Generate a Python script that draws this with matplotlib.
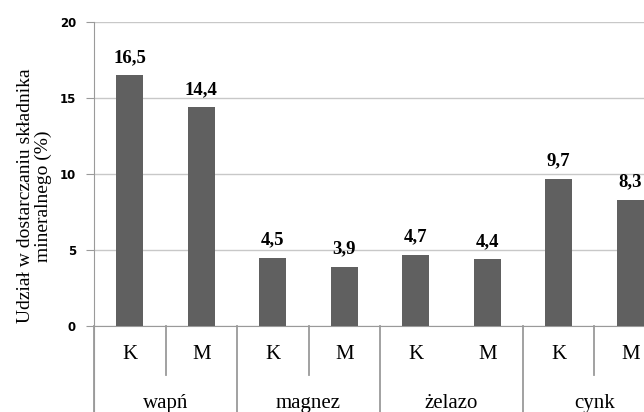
import matplotlib
matplotlib.use("Agg")
import matplotlib.pyplot as plt

# values
groups = ["wapń", "magnez", "żelazo", "cynk"]
subcats = ["K", "M"]
values = [16.5, 14.4, 4.5, 3.9, 4.7, 4.4, 9.7, 8.3]
value_labels = ["16,5", "14,4", "4,5", "3,9", "4,7", "4,4", "9,7", "8,3"]
yticks = [0, 5, 10, 15, 20]
ylabel = "Udział w dostarczaniu składnika\nmineralnego (%)"

serif = "Liberation Serif"
bar_col = "#606060"
line_col = "#9a9a9a"

fig = plt.figure(figsize=(6.44, 4.12), dpi=100, facecolor="white")
# plot area runs past the right edge, like the source image
ax = fig.add_axes([94 / 644, 1 - 326 / 412, 572 / 644, 304 / 412])

x = list(range(len(values)))
ax.bar(x, values, width=0.38, color=bar_col, zorder=3)
for xi, v, lab in zip(x, values, value_labels):
    ax.text(xi, v + 0.6, lab, ha="center", va="bottom", fontsize=13.5,
            fontweight="bold", family=serif)

ax.set_xlim(-0.5, len(values) - 0.5)
ax.set_ylim(0, 20)
ax.set_yticks(yticks)
ax.set_yticklabels([str(t) for t in yticks], fontsize=8.5, fontweight="bold",
                   family="DejaVu Sans")
ax.yaxis.grid(True, color="#c8c8c8", linewidth=1, zorder=0)
ax.tick_params(axis="y", length=6, color=line_col, pad=7)
ax.tick_params(axis="x", bottom=False, labelbottom=False)
for s in ["top", "right"]:
    ax.spines[s].set_visible(False)
ax.spines["left"].set_color(line_col)
ax.spines["bottom"].set_color(line_col)
ax.spines["left"].set_bounds(-7, 20)
ax.spines["left"].set_clip_on(False)

ax.set_ylabel(ylabel, family=serif, fontsize=14, linespacing=1.05)
ax.yaxis.set_label_coords(-0.073, 0.428)

# hierarchical category axis under the plot
for i in range(len(groups) + 1):
    gx = i * 2 - 0.5
    ax.plot([gx, gx], [0, -7], color=line_col, lw=1.3, clip_on=False)
for gx in [0.5, 2.5, 6.5]:
    ax.plot([gx, gx], [0, -3.2], color=line_col, lw=1.3, clip_on=False)
for i, g in enumerate(groups):
    for j, s in enumerate(subcats):
        ax.text(2 * i + j, -1.9, s, ha="center", va="center", fontsize=15,
                family=serif)
    ax.text(2 * i + 0.5, -5.1, g, ha="center", va="center", fontsize=15,
            family=serif)

fig.savefig("out.png", dpi=100)
